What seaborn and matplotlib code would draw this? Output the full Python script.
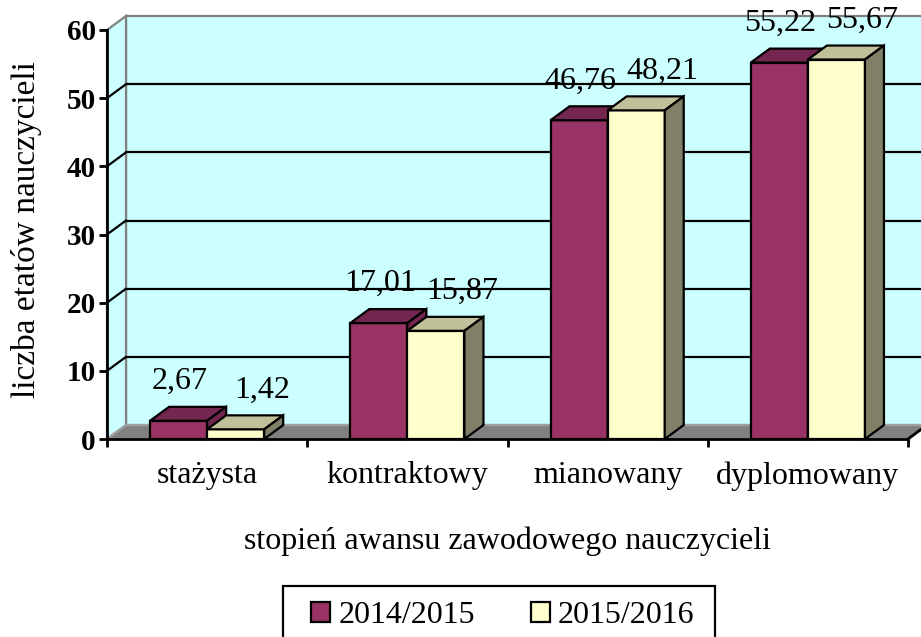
import numpy as np
import pandas as pd
import matplotlib
matplotlib.use('Agg')
import matplotlib.pyplot as plt
import seaborn as sns
from matplotlib.patches import Polygon, Patch, Rectangle
from matplotlib import colors as mcolors

# Data
categories = ['stażysta', 'kontraktowy', 'mianowany', 'dyplomowany']
series_names = ['2014/2015', '2015/2016']
values_2014 = [2.67, 17.01, 46.76, 55.22]
values_2015 = [1.42, 15.87, 48.21, 55.67]
y_ticks = [0, 10, 20, 30, 40, 50, 60]

# Styles
FRONT = {'2014/2015': '#993366', '2015/2016': '#FFFFCC'}
TOP = {'2014/2015': '#732650', '2015/2016': '#C0C09A'}
SIDE = {'2014/2015': '#732650', '2015/2016': '#808066'}
LABEL_SHIFT = {'2014/2015': -6, '2015/2016': 12}   # label nudge, points
WALL = '#CCFFFF'
FLOOR = '#808080'
EDGE_GRAY = '#808080'
LW = 1.6
DX = 0.095   # depth offset, category units
DY = 2.05    # depth offset, value units
FONT = 23

df = pd.DataFrame({
    'stopien': categories * 2,
    'etaty': values_2014 + values_2015,
    'rok': [series_names[0]] * len(categories) + [series_names[1]] * len(categories),
})

sns.set_theme(style='white')
plt.rcParams['font.family'] = ['Liberation Serif', 'DejaVu Serif']
plt.rcParams.update({'text.color': 'black', 'axes.labelcolor': 'black',
                     'xtick.color': 'black', 'ytick.color': 'black'})

fig = plt.figure(figsize=(9.21, 6.37), dpi=100)
ax = fig.add_axes([107 / 921, 1 - 439 / 637, 801 / 921, 409 / 637])
ax.patch.set_visible(False)

sns.barplot(data=df, x='stopien', y='etaty', hue='rok', order=categories,
            hue_order=series_names, palette=FRONT, width=0.57, saturation=1,
            errorbar=None, edgecolor='black', linewidth=LW, legend=False, ax=ax)

ax.set_xlim(-0.5, len(categories) - 0.5)
ax.set_ylim(0, 60)
x0, x1 = ax.get_xlim()
ytop = y_ticks[-1]

# walls and floor
ax.add_patch(Polygon([(x0 + DX, DY), (x1 + DX, DY), (x1 + DX, ytop + DY), (x0 + DX, ytop + DY)],
                     closed=True, fc=WALL, ec=EDGE_GRAY, lw=LW, clip_on=False, zorder=0))
ax.add_patch(Polygon([(x0, 0), (x0 + DX, DY), (x0 + DX, ytop + DY), (x0, ytop)],
                     closed=True, fc=WALL, ec=EDGE_GRAY, lw=LW, clip_on=False, zorder=0))
ax.add_patch(Polygon([(x0, 0), (x1, 0), (x1 + DX, DY), (x0 + DX, DY)],
                     closed=True, fc=FLOOR, ec='#A0A0A0', lw=LW, clip_on=False, zorder=0.3))

for v in y_ticks[1:-1]:
    ax.plot([x0 + DX, x1 + DX], [v + DY, v + DY], color='black', lw=LW, clip_on=False, zorder=0.5)
    ax.plot([x0, x0 + DX], [v, v + DY], color='black', lw=LW, clip_on=False, zorder=0.5)

ax.plot([x1, x1 + DX], [0, DY], color='black', lw=2, clip_on=False, zorder=1)

# 3D faces for the bars
bars = [p for p in ax.patches if isinstance(p, Rectangle)]
for p in bars:
    fc = mcolors.to_hex(p.get_facecolor()).upper()
    name = [k for k, c in FRONT.items() if c.upper() == fc][0]
    idx = series_names.index(name)
    x, w, h = p.get_x(), p.get_width(), p.get_height()
    if h <= 0:
        continue
    z = 2 + idx
    p.set_zorder(z)
    ax.add_patch(Polygon([(x, h), (x + w, h), (x + w + DX, h + DY), (x + DX, h + DY)],
                         closed=True, fc=TOP[name], ec='black', lw=LW, zorder=z, clip_on=False))
    ax.add_patch(Polygon([(x + w, 0), (x + w + DX, DY), (x + w + DX, h + DY), (x + w, h)],
                         closed=True, fc=SIDE[name], ec='black', lw=LW, zorder=z, clip_on=False))
    ax.annotate(f"{h:.2f}".replace('.', ','), xy=(x + w / 2 + DX / 2, h + DY + 1.6),
                xytext=(LABEL_SHIFT[name], 0), textcoords='offset points',
                ha='center', va='bottom', fontsize=FONT, zorder=6, annotation_clip=False)

# axes styling
for s in ['top', 'right']:
    ax.spines[s].set_visible(False)
for s in ['left', 'bottom']:
    ax.spines[s].set_color('black')
    ax.spines[s].set_linewidth(2)
    ax.spines[s].set_zorder(5)

ax.set_yticks(y_ticks)
ax.set_yticklabels([str(t) for t in y_ticks], fontweight='bold', fontsize=21)
ax.tick_params(axis='y', direction='out', length=6, width=2, pad=2, left=True)

ax.set_xticks(range(len(categories)))
ax.set_xticklabels(categories, fontsize=FONT)
ax.set_xticks(np.arange(x0, x1 + 0.01, 1.0), minor=True)
ax.tick_params(axis='x', which='major', length=0, pad=16)
ax.tick_params(axis='x', which='minor', direction='out', length=6, width=2, bottom=True)
ax.set_xlabel('')
ax.set_ylabel('')

fig.text(27 / 921, 1 - 230 / 637, 'liczba etatów nauczycieli', rotation=90,
         ha='center', va='center', fontsize=24)
fig.text(507 / 921, 1 - 541 / 637, 'stopień awansu zawodowego nauczycieli',
         ha='center', va='center', fontsize=FONT)

# legend: frameless entries plus a plain box that runs off the bottom edge
handles = [Patch(facecolor=FRONT[n], edgecolor='black', linewidth=LW, label=n) for n in series_names]
leg = fig.legend(handles=handles, loc='upper left', bbox_to_anchor=(311 / 921, 1 - 601 / 637),
                 ncol=2, frameon=False, fontsize=FONT, borderpad=0, borderaxespad=0,
                 handlelength=0.6, handleheight=0.6, handletextpad=0.25, columnspacing=1.75)
fig.add_artist(Rectangle((283 / 921, -0.05), (715 - 283) / 921, 0.05 + (637 - 586) / 637,
                         transform=fig.transFigure, fill=False, ec='black', lw=LW))

fig.savefig('out.png', dpi=100)
plt.close(fig)
